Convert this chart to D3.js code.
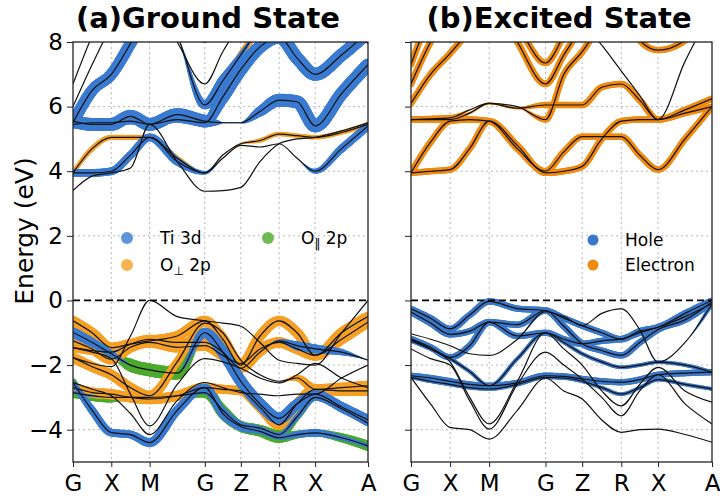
<!DOCTYPE html>
<html>
<head>
<meta charset="utf-8">
<script src="https://cdn.jsdelivr.net/npm/d3@7"></script>
<style>
  body { margin: 0; background: #fff; }
  svg text { font-family: 'DejaVu Sans', sans-serif; fill: #000; }
</style>
</head>
<body>
<div id="chart"></div>
<script>
// k-path
const kLabels = ['G', 'X', 'M', 'G', 'Z', 'R', 'X', 'A'];
const kTicks = [0, 0.5, 1.0, 1.72, 2.19, 2.69, 3.16, 3.85];
// sample points along the path: high-symmetry points and the midpoints between them
const kGrid = [0, 0.25, 0.5, 0.75, 1.0, 1.36, 1.72, 1.955, 2.19, 2.44, 2.69, 2.925, 3.16, 3.505, 3.85];
const energyTicks = [-4, -2, 0, 2, 4, 6, 8];

// (a) ground state bands, eV at kGrid
const groundBands = [
    [5.55, 5.45, 5.45, 5.7, 5.45, 5.75, 5.55, 5.5, 5.5, 5.85, 6.2, 6.15, 5.4, 6.4, 7.3],
    [5.5, 6.5, 7.0, 7.95, 9.0, 9.5, 9.5, 9.5, 9.5, 9.5, 9.5, 9.5, 9.5, 9.5, 9.5],
    [6.0, 7.3, 8.5, 9.5, 9.5, 8.2, 6.05, 6.8, 7.6, 8.5, 9.5, 9.5, 9.5, 9.5, 9.5],
    [6.7, 8.2, 9.5, 9.5, 9.5, 8.0, 6.7, 7.7, 8.6, 9.5, 9.5, 9.5, 9.5, 9.5, 9.5],
    [5.45, 5.5, 5.5, 5.55, 5.45, 5.6, 5.5, 6.3, 7.15, 7.85, 8.15, 7.5, 7.0, 7.6, 8.3],
    [9.5, 9.5, 9.5, 9.5, 9.5, 8.6, 8.0, 8.5, 9.5, 9.5, 9.5, 9.5, 9.5, 8.6, 7.95],
    [3.95, 4.7, 5.05, 5.05, 5.05, 4.4, 3.95, 4.5, 4.85, 4.95, 5.15, 5.1, 5.05, 5.2, 5.45],
    [3.95, 3.95, 4.0, 4.5, 5.05, 4.3, 3.95, 4.4, 4.8, 4.75, 4.85, 4.4, 4.0, 4.7, 5.4],
    [3.4, 3.85, 3.95, 4.1, 5.45, 4.3, 3.38, 3.4, 3.5, 4.3, 4.85, 5.0, 5.05, 5.25, 5.5],
    [-1.77, -1.95, -2.05, -1.1, 0.0, -0.5, -0.63, -0.7, -0.8, -1.3, -1.85, -1.95, -2.0, -1.0, 0.0],
    [-0.63, -1.0, -1.46, -1.35, -1.25, -1.1, -0.63, -1.2, -2.0, -1.1, -0.63, -1.0, -1.7, -1.0, -0.5],
    [-0.99, -1.3, -1.65, -2.0, -2.15, -2.25, -1.0, -1.6, -2.5, -3.2, -3.65, -3.2, -2.9, -3.3, -3.7],
    [-2.54, -3.4, -4.09, -4.15, -4.4, -3.4, -2.7, -3.5, -3.9, -4.05, -4.25, -4.15, -4.1, -4.25, -4.5],
    [-1.46, -1.6, -1.8, -2.9, -3.88, -2.6, -1.8, -1.9, -2.1, -2.4, -2.55, -2.3, -1.95, -2.4, -2.7],
    [-2.54, -2.75, -2.95, -3.5, -4.15, -3.1, -2.54, -2.7, -2.85, -2.9, -2.95, -2.9, -2.9, -2.4, -2.0],
    [-1.25, -1.5, -1.82, -1.45, -1.3, -1.45, -1.4, -1.7, -1.95, -1.5, -1.3, -1.5, -1.7, -1.2, -0.67],
    [-1.46, -1.55, -1.6, -1.35, -1.2, -1.3, -1.3, -1.6, -2.1, -1.6, -1.25, -1.4, -1.5, -1.6, -1.85],
    [-1.77, -2.05, -2.3, -2.7, -2.95, -1.9, -0.7, -1.0, -1.85, -2.3, -2.5, -2.4, -2.75, -2.7, -2.64],
    [-2.7, -2.85, -2.9, -3.0, -3.05, -2.95, -2.7, -2.75, -2.8, -3.3, -3.85, -3.2, -2.75, -2.8, -2.8],
    [-2.85, -2.95, -3.0, -3.0, -3.0, -2.95, -2.85, -3.4, -3.85, -3.95, -4.15, -3.6, -3.0, -3.35, -3.8]
];

// orbital weights (0..1) for each band above, null = no weight
const groundTi = [
    [1, 1, 1, 1, 1, 1, 1, 0.1, 0.1, 0.8, 1, 1, 1, 1, 1],
    [0.9, 0.9, 0.9, 0.9, 0.9, 0, 0, 0, 0, 0, 0, 0, 0, 0, 0],
    [0, 0, 0, 0, 0, 0, 0.7, 0.8, 0.4, 0, 0, 0, 0, 0, 0],
    null,
    [0.6, 0.6, 0.6, 0.5, 0.5, 0.5, 0.6, 1, 1, 1, 1, 1, 1, 1, 1],
    null,
    null,
    [0.6, 0.6, 0.6, 0.6, 0.6, 0.6, 0.3, 0, 0, 0, 0, 0, 0.4, 0.6, 0.6],
    null, null, null,
    [0.8, 0.7, 0.5, 0.1, 0, 0, 0.8, 0.9, 0.9, 0.9, 0.9, 0.8, 0.6, 0.8, 0.8],
    [0.4, 0.6, 0.6, 0.6, 0.7, 0.7, 0.6, 0.7, 0.7, 0.4, 0.3, 0.5, 0.6, 0.4, 0.3],
    null, null, null,
    [0, 0, 0.2, 0, 0, 0, 0, 0, 0, 0, 0.2, 0.7, 0.7, 0.5, 0],
    null, null,
    [0.2, 0.2, 0, 0, 0, 0, 0.3, 0.5, 0.5, 0.3, 0.3, 0.4, 0.5, 0.5, 0.5]
];
const groundOperp = [
    null, null,
    [0, 0, 0, 0, 0, 0, 0, 0.3, 0.5, 0.5, 0.5, 0, 0, 0, 0],
    null, null, null,
    [0.35, 0.4, 0.4, 0.4, 0.4, 0.4, 0.2, 0, 0.15, 0.35, 0.35, 0.35, 0.35, 0.35, 0.4],
    [0, 0, 0, 0, 0.2, 0.3, 0.15, 0, 0, 0, 0, 0, 0, 0, 0],
    null, null,
    [0.8, 0.8, 0.8, 0.8, 0.8, 0.8, 0.8, 0.8, 0.8, 0.8, 0.8, 0.8, 0.8, 0.8, 0.8],
    null, null, null, null,
    [0.8, 0.8, 0.8, 0.8, 0.8, 0.8, 0.8, 0.8, 0.8, 0.8, 0.8, 0.8, 0.8, 0.8, 0.8],
    [0.7, 0.7, 0.5, 0.7, 0.7, 0.7, 0.6, 0.7, 0.7, 0.7, 0.6, 0.2, 0.2, 0, 0],
    [0.8, 0.8, 0.8, 0.8, 0.8, 0.6, 0.5, 0.3, 0.2, 0, 0, 0.5, 0.8, 0.8, 0.8],
    [0.8, 0.8, 0.8, 0.8, 0.8, 0.8, 0.8, 0.7, 0.7, 0.8, 0.8, 0.8, 0.8, 0.8, 0.8],
    null
];
const groundOpar = [
    null, null, null, null, null, null, null, null, null, null, null,
    [0, 0, 0.3, 1, 1, 1, 0.2, 0.3, 0.3, 0.2, 0.3, 0.5, 0.5, 0.6, 0.6],
    [0.6, 0.3, 0, 0, 0, 0.3, 0.8, 0.8, 0.8, 0.8, 0.8, 0.6, 0.5, 0.7, 0.8],
    null, null, null, null, null,
    [0.5, 0.5, 0.3, 0, 0, 0.3, 0.5, 0.3, 0, 0, 0, 0, 0, 0, 0],
    [0.8, 0.8, 0.8, 0.4, 0.2, 0.5, 0.8, 0.8, 0.6, 0.5, 0.7, 0.5, 0.5, 0.5, 0.5]
];

// (b) excited state bands, eV at kGrid
const excitedBands = [
    [3.95, 4.0, 4.05, 4.7, 5.55, 4.8, 3.95, 4.0, 4.15, 5.0, 5.55, 5.6, 5.6, 5.8, 6.0],
    [3.95, 4.9, 5.55, 5.6, 5.55, 4.7, 4.0, 4.6, 5.07, 5.07, 5.07, 4.5, 4.05, 5.0, 6.0],
    [5.6, 5.62, 5.65, 5.9, 6.1, 6.0, 5.6, 7.0, 7.7, 8.6, 9.5, 9.5, 9.5, 9.5, 9.5],
    [5.6, 5.6, 5.6, 5.8, 6.1, 5.95, 6.05, 6.05, 6.05, 6.6, 6.7, 6.2, 5.6, 5.9, 6.25],
    [6.1, 7.0, 7.65, 8.4, 9.5, 9.5, 9.5, 9.5, 9.5, 9.5, 9.5, 9.5, 9.5, 9.5, 9.5],
    [6.7, 8.0, 9.0, 9.5, 9.5, 9.5, 9.5, 9.5, 9.5, 9.5, 9.5, 9.5, 9.5, 9.5, 9.5],
    [7.3, 8.8, 9.5, 9.5, 9.5, 9.5, 9.5, 9.5, 9.5, 9.5, 9.5, 9.5, 9.5, 9.5, 9.5],
    [9.5, 9.5, 9.5, 9.5, 9.5, 8.0, 6.7, 7.6, 8.5, 9.5, 9.5, 9.5, 9.5, 9.5, 9.5],
    [9.5, 9.5, 9.5, 9.5, 9.5, 8.5, 7.35, 8.2, 9.2, 9.5, 9.5, 9.5, 9.5, 9.5, 9.5],
    [9.5, 9.5, 9.5, 9.5, 9.5, 9.5, 9.5, 9.2, 8.6, 7.9, 7.1, 6.35, 5.6, 7.4, 9.0],
    [9.5, 9.5, 9.5, 9.5, 9.5, 9.5, 9.5, 9.5, 9.5, 9.5, 9.0, 8.05, 7.75, 8.05, 9.0],
    [-0.26, -0.55, -0.88, -0.45, -0.03, -0.25, -0.31, -0.55, -0.78, -1.0, -1.2, -0.95, -0.83, -0.4, 0.0],
    [-0.36, -0.7, -1.05, -0.95, -0.67, -0.75, -0.31, -0.8, -1.34, -1.55, -1.7, -1.3, -0.9, -0.6, -0.05],
    [-1.03, -1.2, -1.4, -1.65, -1.7, -1.2, -0.35, -0.5, -0.78, -0.4, -0.26, -0.9, -1.91, -1.3, -0.1],
    [-1.19, -1.45, -1.76, -1.4, -0.67, -1.1, -1.0, -1.2, -1.34, -1.25, -1.19, -1.0, -0.83, -0.5, -0.1],
    [-1.25, -1.5, -1.8, -2.2, -2.64, -1.8, -1.0, -1.3, -1.65, -1.9, -2.07, -2.0, -1.91, -2.0, -2.22],
    [-2.33, -2.4, -2.5, -2.6, -2.64, -2.55, -2.33, -2.35, -2.43, -2.5, -2.53, -2.45, -2.3, -2.25, -2.22],
    [-2.38, -2.5, -2.6, -2.7, -2.74, -2.6, -2.38, -2.4, -2.5, -2.7, -2.9, -2.7, -2.45, -2.6, -2.74],
    [-2.38, -3.2, -3.93, -4.0, -4.29, -3.4, -2.4, -2.8, -3.05, -3.7, -4.08, -4.0, -3.98, -4.15, -4.39],
    [-1.2, -1.5, -1.9, -3.0, -3.82, -2.5, -1.0, -1.5, -2.0, -2.8, -3.26, -2.6, -2.07, -2.8, -3.15],
    [-1.5, -1.8, -2.0, -3.1, -3.98, -2.6, -1.6, -2.0, -2.43, -3.0, -3.57, -2.8, -2.3, -3.2, -3.82]
];
const excitedElectron = [
    [0.8, 0.8, 0.8, 0.8, 0.8, 0.8, 0.8, 0.8, 0.8, 0.8, 0.8, 0.8, 0.8, 0.8, 0.8],
    [0.8, 0.8, 0.8, 0.8, 0.8, 0.8, 0.8, 0.8, 0.8, 0.8, 0.8, 0.8, 0.8, 0.8, 0.8],
    [0.8, 0.8, 0.8, 0.1, 0.1, 0.1, 0.8, 0.8, 0.8, 0.8, 0.8, 0.8, 0.8, 0.8, 0.8],
    [0.8, 0.8, 0.8, 0.3, 0.3, 0.3, 0.8, 0.8, 0.8, 0.8, 0.8, 0.8, 0.8, 0.8, 0.8],
    [0.8, 0.8, 0.8, 0.8, 0.8, 0.8, 0.8, 0.8, 0.8, 0.8, 0.8, 0.8, 0.8, 0.8, 0.8],
    [0.8, 0.8, 0.8, 0.8, 0.8, 0.8, 0.8, 0.8, 0.8, 0.8, 0.8, 0.8, 0.8, 0.8, 0.8],
    [0.8, 0.8, 0.8, 0.8, 0.8, 0.8, 0.8, 0.8, 0.8, 0.8, 0.8, 0.8, 0.8, 0.8, 0.8],
    [0.8, 0.8, 0.8, 0.8, 0.8, 0.8, 0.8, 0.8, 0.8, 0.8, 0.8, 0.8, 0.8, 0.8, 0.8],
    [0.8, 0.8, 0.8, 0.8, 0.8, 0.8, 0.8, 0.8, 0.8, 0.8, 0.8, 0.8, 0.8, 0.8, 0.8],
    null,
    [0.8, 0.8, 0.8, 0.8, 0.8, 0.8, 0.8, 0.8, 0.8, 0.8, 0.8, 0.8, 0.8, 0.8, 0.8]
];
const excitedHole = [
    null, null, null, null, null, null, null, null, null, null, null,
    [0.8, 0.8, 0.8, 0.8, 0.8, 0.8, 0.8, 0.8, 0.8, 0.8, 0.8, 0.8, 0.8, 0.8, 0.8],
    [0.8, 0.8, 0.8, 0.8, 0.8, 0.8, 0.8, 0.8, 0.8, 0.8, 0.8, 0.8, 0.8, 0.8, 0.8],
    [0, 0, 0, 0, 0, 0, 0.5, 0.3, 0, 0, 0, 0, 0, 0, 0.6],
    [0.8, 0.8, 0.8, 0.8, 0.8, 0.8, 0.8, 0.8, 0.8, 0.8, 0.8, 0.8, 0.8, 0.8, 0.8],
    [0.5, 0.5, 0.5, 0.5, 0.5, 0.5, 0.5, 0.5, 0.5, 0.5, 0.5, 0.5, 0.5, 0.5, 0.5],
    [0.8, 0.8, 0.8, 0.8, 0.8, 0.8, 0.8, 0.8, 0.8, 0.8, 0.8, 0.8, 0.8, 0.8, 0.8],
    [0.5, 0.5, 0.5, 0.5, 0.5, 0.5, 0.5, 0.5, 0.5, 0.5, 0.5, 0.5, 0.5, 0.5, 0.5],
    null, null, null
];

const width = 720, height = 504;
const plotTop = 42, plotBottom = 462;

const svg = d3.select('#chart').append('svg')
    .attr('width', width)
    .attr('height', height);

const y = d3.scaleLinear().domain([-5, 8]).range([plotBottom, plotTop]);
const minus = d => (d < 0 ? '\u2212' + Math.abs(d) : String(d));

function drawPanel(id, x0, x1, bands, layers, showLabels) {
    const x = d3.scaleLinear().domain([0, kTicks[kTicks.length - 1]]).range([x0, x1]);
    const g = svg.append('g');

    svg.append('clipPath').attr('id', id)
        .append('rect')
        .attr('x', x0).attr('y', plotTop)
        .attr('width', x1 - x0).attr('height', plotBottom - plotTop);

    // dotted grid
    g.selectAll('line.vgrid')
        .data(kTicks.slice(1, -1))
        .join('line')
        .attr('x1', d => x(d)).attr('x2', d => x(d))
        .attr('y1', plotTop).attr('y2', plotBottom)
        .attr('stroke', '#b8b8b8').attr('stroke-width', 1)
        .attr('stroke-dasharray', '2,3');
    g.selectAll('line.hgrid')
        .data(energyTicks.filter(d => d !== 0 && d !== 8))
        .join('line')
        .attr('x1', x0).attr('x2', x1)
        .attr('y1', d => y(d)).attr('y2', d => y(d))
        .attr('stroke', '#b8b8b8').attr('stroke-width', 1)
        .attr('stroke-dasharray', '2,3');

    const plot = g.append('g').attr('clip-path', `url(#${id})`);
    const fat = plot.append('g');
    const line = d3.line()
        .x((d, i) => x(kGrid[i]))
        .y(d => y(d))
        .curve(d3.curveMonotoneX);

    const paths = plot.append('g').selectAll('path')
        .data(bands)
        .join('path')
        .attr('d', line)
        .attr('fill', 'none')
        .attr('stroke', '#111')
        .attr('stroke-width', 1.2);

    // fat bands: dots along each band, size from the orbital weight
    layers.forEach(layer => {
        const lg = fat.append('g').attr('fill', layer.color);
        paths.each(function(d, bi) {
            const w = layer.weights[bi];
            if (!w) return;
            const wScale = d3.scaleLinear().domain(kGrid).range(w).clamp(true);
            const len = this.getTotalLength();
            const pts = [];
            for (let s = 0; s <= len; s += 1.2) {
                const p = this.getPointAtLength(s);
                if (p.y < plotTop - 8 || p.y > plotBottom + 8) continue;
                const r = wScale(x.invert(p.x)) * layer.rmax;
                if (r > 0.5) pts.push([p.x, p.y, r]);
            }
            lg.selectAll(null)
                .data(pts)
                .join('circle')
                .attr('cx', p => p[0])
                .attr('cy', p => p[1])
                .attr('r', p => p[2]);
        });
    });

    // Fermi level
    g.append('line')
        .attr('x1', x0).attr('x2', x1)
        .attr('y1', y(0)).attr('y2', y(0))
        .attr('stroke', '#000').attr('stroke-width', 1.7)
        .attr('stroke-dasharray', '7,4');

    // axes
    const yAxis = d3.axisLeft(y).tickValues(energyTicks).tickSize(6).tickPadding(4)
        .tickFormat(showLabels ? minus : '');
    const ya = g.append('g').attr('transform', `translate(${x0},0)`).call(yAxis);
    ya.select('.domain').remove();
    ya.selectAll('text').attr('font-size', 23).attr('font-family', 'DejaVu Sans');
    ya.selectAll('line').attr('stroke', '#222');

    const xAxis = d3.axisBottom(x).tickValues(kTicks).tickSize(5).tickPadding(8)
        .tickFormat((d, i) => kLabels[i]);
    const xa = g.append('g').attr('transform', `translate(0,${plotBottom})`).call(xAxis);
    xa.select('.domain').remove();
    xa.selectAll('text').attr('font-size', 23).attr('font-family', 'DejaVu Sans');
    xa.selectAll('line').attr('stroke', '#222');

    g.append('rect')
        .attr('x', x0).attr('y', plotTop)
        .attr('width', x1 - x0).attr('height', plotBottom - plotTop)
        .attr('fill', 'none').attr('stroke', '#222').attr('stroke-width', 1.3);
}

const tiColor = '#3a7bd0', operpColor = '#f5a025', oparColor = '#4caa2c';
const holeColor = '#3b78c8', electronColor = '#ef8b12';

drawPanel('clipA', 73, 368, groundBands, [
    { color: oparColor, weights: groundOpar, rmax: 6.5 },
    { color: operpColor, weights: groundOperp, rmax: 6.5 },
    { color: tiColor, weights: groundTi, rmax: 6.5 }
], true);

drawPanel('clipB', 411, 712, excitedBands, [
    { color: electronColor, weights: excitedElectron, rmax: 4 },
    { color: holeColor, weights: excitedHole, rmax: 4 }
], false);

// titles
svg.append('text').attr('x', 208).attr('y', 28).attr('text-anchor', 'middle')
    .attr('font-size', 29).attr('font-weight', 'bold').text('(a)Ground State');
svg.append('text').attr('x', 559).attr('y', 28).attr('text-anchor', 'middle')
    .attr('font-size', 29).attr('font-weight', 'bold').text('(b)Excited State');

svg.append('text')
    .attr('transform', 'translate(33,231) rotate(-90)')
    .attr('text-anchor', 'middle')
    .attr('font-size', 25)
    .text('Energy (eV)');

// legend (a)
const legendA = [
    { x: 127, y: 238, color: tiColor, label: 'Ti 3d', sub: null },
    { x: 127, y: 265, color: operpColor, label: 'O', sub: '\u22A5' },
    { x: 268, y: 238, color: oparColor, label: 'O', sub: '\u2016' }
];
legendA.forEach(d => {
    svg.append('circle').attr('cx', d.x).attr('cy', d.y).attr('r', 6)
        .attr('fill', d.color).attr('fill-opacity', 0.8);
    const t = svg.append('text').attr('x', d.x + 33).attr('y', d.y + 6).attr('font-size', 17);
    t.append('tspan').text(d.label);
    if (d.sub) {
        t.append('tspan').attr('font-size', 12).attr('dy', 4).text(d.sub);
        t.append('tspan').attr('dy', -4).text('\u00A02p');
    }
});

// legend (b)
const legendB = [
    { y: 240, color: holeColor, label: 'Hole' },
    { y: 265, color: electronColor, label: 'Electron' }
];
legendB.forEach(d => {
    svg.append('circle').attr('cx', 593).attr('cy', d.y).attr('r', 5.5).attr('fill', d.color);
    svg.append('text').attr('x', 625).attr('y', d.y + 6).attr('font-size', 17).text(d.label);
});
</script>
</body>
</html>
